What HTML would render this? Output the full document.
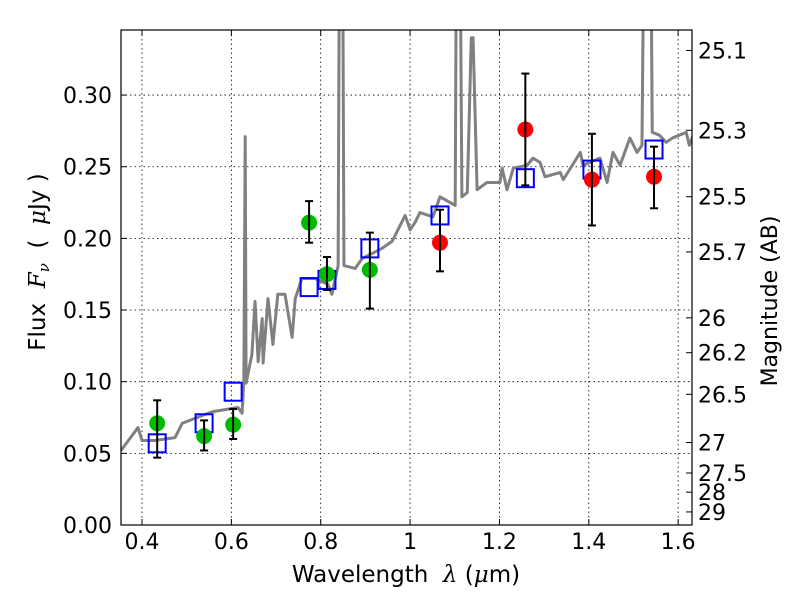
<!DOCTYPE html>
<html><head><meta charset="utf-8"><style>
body{margin:0;background:#fff}
svg{display:block;font-family:"DejaVu Sans","Liberation Sans",sans-serif}
</style></head><body>
<svg id="chart" width="800" height="600" viewBox="0 0 800 600"></svg>
<script>
const specLam=[0.353,0.391,0.400,0.429,0.474,0.490,0.557,0.615,0.624,0.628,0.631,0.633,0.646,0.653,0.660,0.669,0.671,0.682,0.693,0.704,0.720,0.736,0.743,0.758,0.787,0.816,0.825,0.839,0.843,0.848,0.852,0.877,0.893,0.937,0.960,0.989,1.000,1.011,1.022,1.051,1.067,1.101,1.105,1.110,1.116,1.128,1.137,1.141,1.150,1.172,1.201,1.206,1.217,1.231,1.262,1.275,1.291,1.302,1.336,1.343,1.381,1.387,1.425,1.441,1.454,1.470,1.492,1.508,1.519,1.526,1.537,1.542,1.558,1.573,1.587,1.618,1.625,1.636];
const specFlux=[0.052,0.068,0.059,0.059,0.061,0.071,0.079,0.082,0.078,0.101,0.271,0.099,0.119,0.156,0.114,0.144,0.113,0.158,0.126,0.161,0.161,0.131,0.158,0.172,0.172,0.168,0.161,0.181,0.5,0.5,0.181,0.179,0.186,0.193,0.198,0.216,0.206,0.211,0.218,0.215,0.229,0.223,0.5,0.5,0.229,0.232,0.340,0.340,0.234,0.239,0.239,0.249,0.234,0.249,0.251,0.256,0.253,0.243,0.246,0.241,0.260,0.251,0.256,0.239,0.260,0.251,0.270,0.260,0.265,0.5,0.5,0.274,0.272,0.267,0.270,0.274,0.265,0.274];
const greenLam=[0.434,0.539,0.604,0.774,0.814,0.910];
const greenFlux=[0.071,0.062,0.070,0.211,0.175,0.178];
const greenLo=[0.047,0.052,0.060,0.197,0.164,0.151];
const greenHi=[0.087,0.073,0.081,0.226,0.187,0.204];
const redLam=[1.067,1.258,1.407,1.546];
const redFlux=[0.197,0.276,0.241,0.243];
const redLo=[0.177,0.237,0.209,0.221];
const redHi=[0.220,0.315,0.273,0.264];
const modelLam=[0.434,0.539,0.604,0.774,0.814,0.910,1.067,1.258,1.407,1.546];
const modelFlux=[0.057,0.071,0.093,0.166,0.171,0.193,0.216,0.242,0.248,0.262];
const xTicks=[0.4,0.6,0.8,1.0,1.2,1.4,1.6];
const xTickLabels=["0.4","0.6","0.8","1","1.2","1.4","1.6"];
const yTicks=[0,0.05,0.10,0.15,0.20,0.25,0.30];
const yTickLabels=["0.00","0.05","0.10","0.15","0.20","0.25","0.30"];
const magTicks=[25.1,25.3,25.5,25.7,26,26.2,26.5,27,27.5,28,29];

const L=121,R=692,T=30,B=525,X0=0.353,X1=1.631,Y0=0,Y1=0.3454;
const sx=v=>L+(v-X0)/(X1-X0)*(R-L);
const sy=v=>B-(v-Y0)/(Y1-Y0)*(B-T);
const svg=document.getElementById('chart');
const NS='http://www.w3.org/2000/svg';
function mk(tag,attrs,parent){const e=document.createElementNS(NS,tag);for(const k in attrs)e.setAttribute(k,attrs[k]);(parent||svg).appendChild(e);return e;}
const defs=mk('defs',{});const cp=mk('clipPath',{id:'clip'},defs);mk('rect',{x:L,y:T,width:R-L,height:B-T},cp);
const FS=22;
xTicks.forEach((t,i)=>{const x=sx(t);
 const g=mk('line',{x1:x,x2:x,y1:T,y2:B,stroke:'#000','stroke-width':0.8,'stroke-dasharray':'1.5,3'});
 
 
 mk('line',{x1:x,x2:x,y1:B,y2:B-6,stroke:'#000'});mk('line',{x1:x,x2:x,y1:T,y2:T+6,stroke:'#000'});
 const tx=mk('text',{x:x,y:B+24,'text-anchor':'middle','font-size':FS});tx.textContent=xTickLabels[i];
 
 
});
yTicks.forEach((t,i)=>{const y=sy(t);
 const g=mk('line',{x1:L,x2:R,y1:y,y2:y,stroke:'#000','stroke-width':0.8,'stroke-dasharray':'1.5,3'});
 
 
 mk('line',{x1:L,x2:L+6,y1:y,y2:y,stroke:'#000'});
 const tx=mk('text',{x:L-9,y:y+8,'text-anchor':'end','font-size':FS});tx.textContent=yTickLabels[i];
 
 
});
magTicks.forEach(m=>{const f=Math.pow(10,(23.9-m)/2.5);const y=sy(f);
 mk('line',{x1:R,x2:R-6,y1:y,y2:y,stroke:'#000'});
 const tx=mk('text',{x:R+6,y:y+8,'font-size':FS});tx.textContent=String(m);
 
 
});

const gc=mk('g',{'clip-path':'url(#clip)'});
const sp=mk('polyline',{points:specLam.map((l,i)=>sx(l)+','+sy(specFlux[i])).join(' '),fill:'none',stroke:'#808080','stroke-width':3,'stroke-linejoin':'round'},gc);



function errbars(lam,lo,hi,name){lam.forEach((l,i)=>{const x=sx(l);const g=mk('g',{stroke:'#000','stroke-width':2},gc);
 
 
 mk('line',{x1:x,x2:x,y1:sy(lo[i]),y2:sy(hi[i])},g);
 mk('line',{x1:x-4,x2:x+4,y1:sy(lo[i]),y2:sy(lo[i])},g);
 mk('line',{x1:x-4,x2:x+4,y1:sy(hi[i]),y2:sy(hi[i])},g);});}
modelLam.forEach((l,i)=>{const r=mk('rect',{x:sx(l)-8.5,y:sy(modelFlux[i])-9,width:17,height:18,fill:'none',stroke:'#0000ff','stroke-width':2},gc);
 
 });
greenLam.forEach((l,i)=>{const c=mk('circle',{cx:sx(l),cy:sy(greenFlux[i]),r:8,fill:'#00bb00'},gc);
 
 });
redLam.forEach((l,i)=>{const c=mk('circle',{cx:sx(l),cy:sy(redFlux[i]),r:8,fill:'#ff0000'},gc);
 
 });
errbars(greenLam,greenLo,greenHi,'green-error-bar');
errbars(redLam,redLo,redHi,'red-error-bar');

const fr=mk('rect',{x:L,y:T,width:R-L,height:B-T,fill:'none',stroke:'#000','stroke-width':1.2});


</script>
<svg style="position:absolute;left:0;top:0" width="800" height="600">
<text x="406" y="582" text-anchor="middle" font-size="23" style="white-space:pre" font-family="DejaVu Sans, Liberation Sans, sans-serif">Wavelength  <tspan font-style="italic" font-family="DejaVu Serif, serif">λ</tspan> (<tspan font-style="italic" font-family="DejaVu Serif, serif">μ</tspan>m)</text>
<text transform="translate(45,262) rotate(-90)" text-anchor="middle" font-size="23" style="white-space:pre" font-family="DejaVu Sans, Liberation Sans, sans-serif">Flux  <tspan font-style="italic" font-family="DejaVu Serif, serif">F<tspan font-size="15" dy="4">ν</tspan></tspan><tspan dy="-4">  (  </tspan><tspan font-style="italic" font-family="DejaVu Serif, serif">μ</tspan>Jy )</text>
<text transform="translate(777,301) rotate(-90)" text-anchor="middle" font-size="22" font-family="DejaVu Sans, Liberation Sans, sans-serif">Magnitude (AB)</text>
</svg>
</body></html>
